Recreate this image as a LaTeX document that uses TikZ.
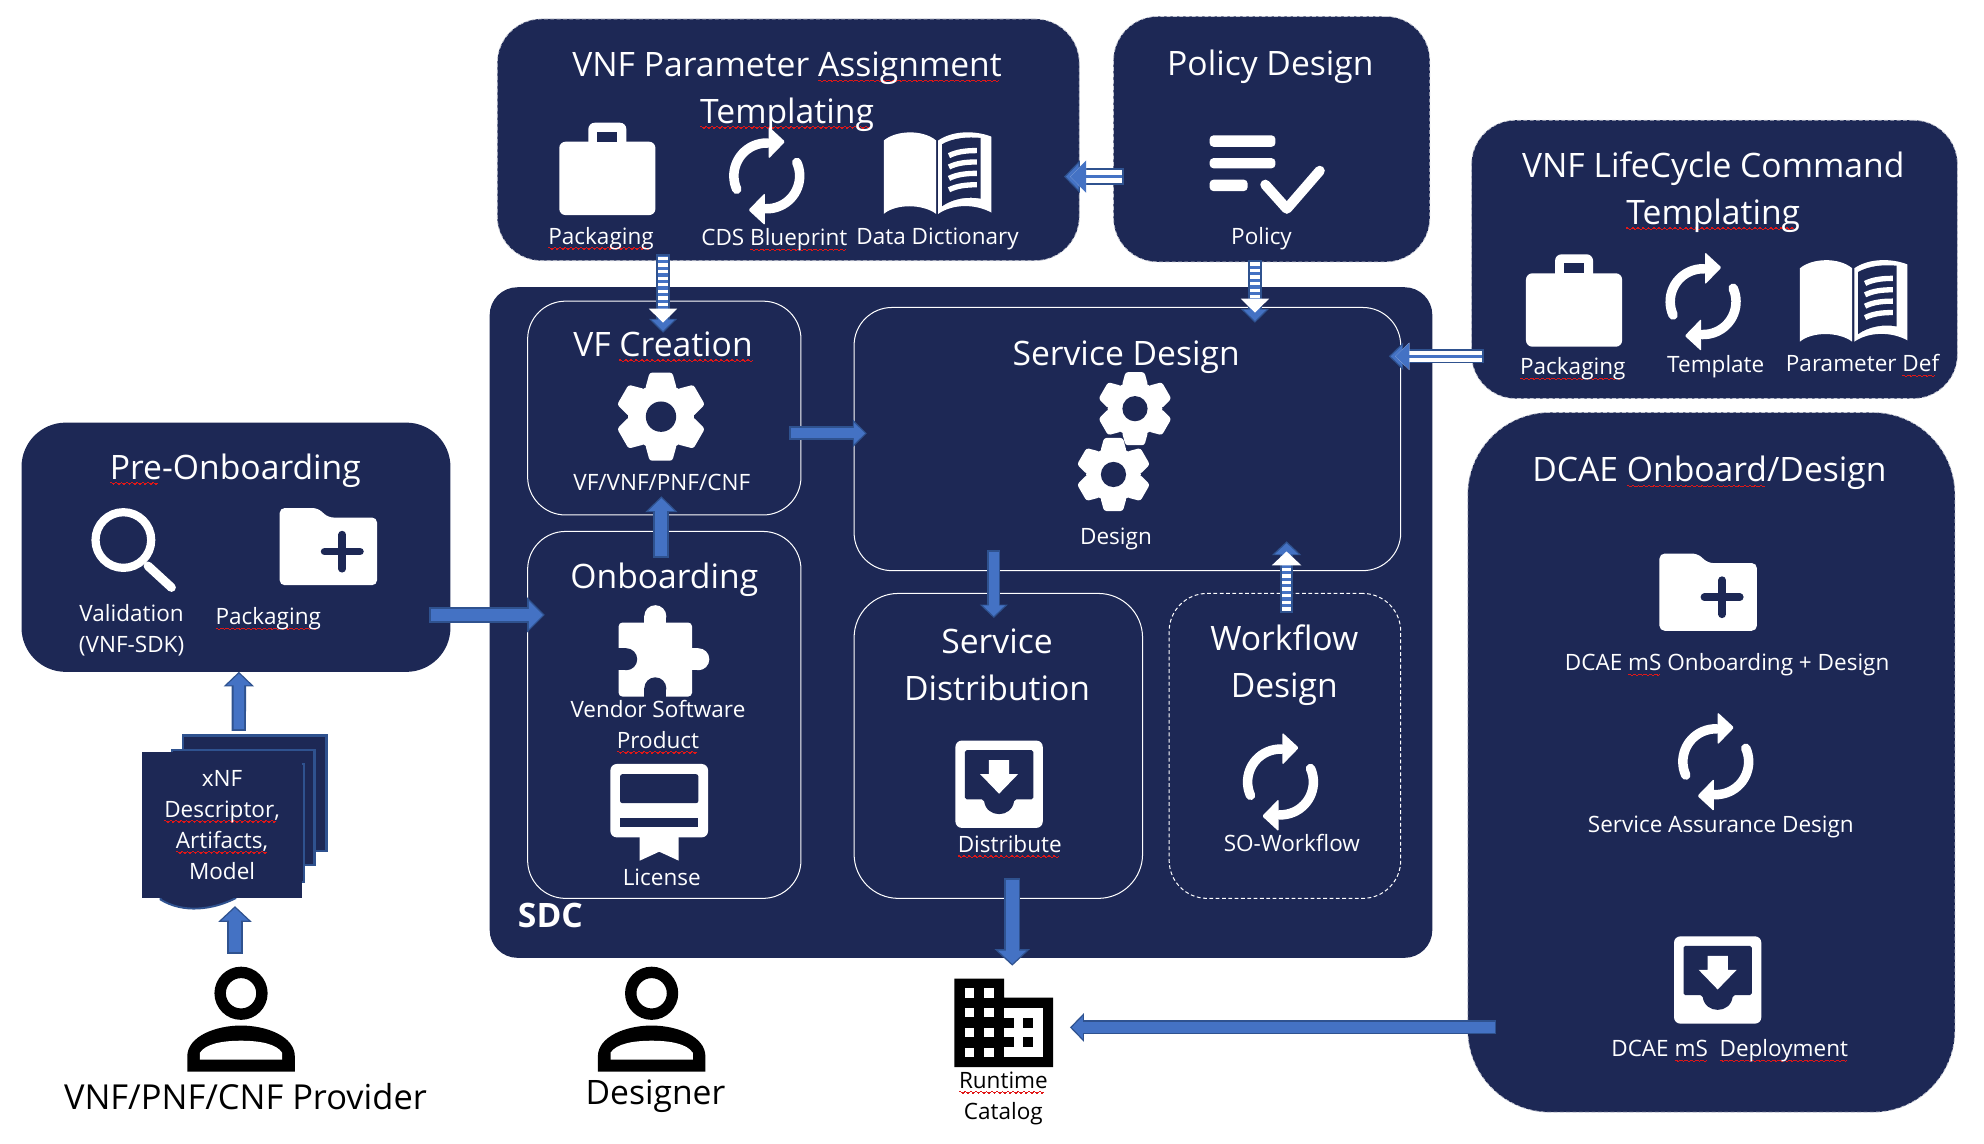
\documentclass[tikz,border=0pt]{standalone}
\usepackage{fontspec}
\setmainfont{Open Sans}
\usetikzlibrary{arrows.meta}

\definecolor{panelnavy}{HTML}{1D2855}
\definecolor{linkfill}{HTML}{4472C4}
\definecolor{linkedge}{HTML}{2F528F}
\definecolor{spellred}{HTML}{E01818}
\newcommand{\spellwave}{\hbox{\vrule width 1.5pt height .9pt depth 0pt\vrule width .6pt height .4pt depth .4pt\vrule width 1.5pt height 0pt depth .9pt\vrule width .6pt height .4pt depth .4pt}}
\newcommand{\spell}[1]{\leavevmode\setbox0=\hbox{#1}\rlap{\textcolor{spellred}{\lower3.2pt\hbox to\wd0{\leaders\spellwave\hfill}}}\box0\relax}

\tikzset{
    panel/.style={fill=panelnavy, rounded corners=35pt},
    dashpanel/.style={panel, draw=white!75!panelnavy, densely dashed, line width=.6pt},
    inbox/.style={draw=white, line width=.8pt, rounded corners=30pt},
    iconbox/.style={inner sep=0pt},
    title/.style={text=white, inner sep=0pt, align=center, font=\fontsize{26.6}{37}\selectfont},
    small/.style={text=white, inner sep=0pt, align=center, font=\fontsize{17.8}{24.5}\selectfont},
    fatarrow/.style n args={3}{-{Triangle[width=#2pt,length=#3pt]}, draw=linkedge, line width=#1pt,
        postaction={draw=linkfill, line width=#1pt-3pt, -{Triangle[width=#2pt,length=#3pt,scale=.8]}, shorten >=1.5pt, shorten <=1.5pt}},
    ladderarrow/.style n args={3}{fatarrow={#1}{#2}{#3},
        postaction={draw=white, line width=#1pt-3pt, dash pattern=on 2.6pt off 2.6pt, shorten >=#3pt-3pt, shorten <=2pt}},
    railarrow/.style n args={3}{fatarrow={#1}{#2}{#3},
        postaction={draw=white, line width=#1pt-3pt, shorten >=5pt, shorten <=1.5pt},
        postaction={draw=linkfill, line width=2.8pt, shorten >=5pt, shorten <=1.5pt}},
    briefcase/.pic={
        \fill[white, rounded corners=5pt] (-38,-21) rectangle (38,37);
        \fill[white, rounded corners=5pt] (-15,-36) rectangle (15,-10);
        \fill[panelnavy] (-8,-29) rectangle (8,-21);
    },
    refresh/.pic={
        \draw[white, line width=7.5pt, line cap=round] (156:26) arc[start angle=156, end angle=272, radius=26];
        \draw[white, line width=7.5pt, line cap=round] (336:26) arc[start angle=336, end angle=452, radius=26];
        \fill[white, rounded corners=1pt] (1.5,-39) -- (14.5,-27) -- (1.5,-13.6) -- cycle;
        \fill[white, rounded corners=1pt] (-1.5,39) -- (-14.5,27) -- (-1.5,13.6) -- cycle;
    },
    openbook/.pic={
        \fill[white] (-42.5,-26) .. controls (-33,-34) and (-12,-35) .. (-1.2,-26) -- (-1.2,32) .. controls (-12,24) and (-33,24) .. (-42.5,32) -- cycle;
        \fill[white] (.5,-26) .. controls (12,-34) and (30,-34) .. (42.5,-29) -- (42.5,31) .. controls (30,24) and (12,24) .. (.5,32) -- cycle;
        \fill[panelnavy] (3.5,-23) .. controls (12,-28) and (24,-29) .. (34,-28) -- (34,20) .. controls (24,18) and (12,20) .. (3.5,26) -- cycle;
        \foreach \s in {-16,-7,2,11}
            \draw[white, line width=4.2pt] (9,\s+2) .. controls (15,\s-1) and (22,\s-2) .. (31,\s-2);
    },
    checklist/.pic={
        \fill[white, rounded corners=3pt] (0,0) rectangle (52,9);
        \fill[white, rounded corners=3pt] (0,18) rectangle (52,26);
        \fill[white, rounded corners=3pt] (0,35) rectangle (30,44);
        \draw[white, line width=8pt, line cap=round, line join=round] (44,39) -- (61,58) -- (87,28);
    },
    gearicon/.pic={
        \fill[white] (0,0) circle (26);
        \foreach \a in {0,60,...,300}
            \fill[white, rotate=\a, rounded corners=2pt] (-12.5,-22) -- (-9,-34.8) -- (9,-34.8) -- (12.5,-22) -- cycle;
        \fill[panelnavy] (0,0) circle (12);
    },
    puzzle/.pic={
        \fill[white, rounded corners=3pt] (-29,-29) rectangle (29,29.5);
        \fill[white] (0,-34) circle (8.7);
        \fill[white] (-8.7,-34) rectangle (8.7,-25);
        \fill[white] (34,0) circle (8.7);
        \fill[white] (25,-8.7) rectangle (34,8.7);
        \fill[panelnavy] (-23,0) circle (8.7);
        \fill[panelnavy] (-30,-8.7) rectangle (-23,8.7);
        \fill[panelnavy] (0,23) circle (8.7);
        \fill[panelnavy] (-8.7,23) rectangle (8.7,30);
    },
    badge/.pic={
        \fill[white] (-15.4,20) -- (15.4,20) -- (15.4,47.4) -- (0,40.3) -- (-15.4,47.4) -- cycle;
        \fill[white, rounded corners=5pt] (-38.6,-29) rectangle (38.6,29);
        \fill[panelnavy, rounded corners=2pt] (-31,-21) -- (31,-21) -- (31,2) -- (-31,2) -- cycle;
        \fill[panelnavy] (-31,13.4) rectangle (31,21);
    },
    traydown/.pic={
        \fill[white, rounded corners=5pt] (-34.5,-34.5) rectangle (34.5,34.5);
        \fill[panelnavy, rounded corners=1.5pt] (-27,-27) -- (27,-27) -- (27,12) -- (12,12) .. controls (10,27) and (-10,27) .. (-12,12) -- (-27,12) -- cycle;
        \fill[white] (-8,-19) -- (8,-19) -- (8,-8) -- (15,-8) -- (0,7.5) -- (-15,-8) -- (-8,-8) -- cycle;
    },
    folderplus/.pic={
        \fill[white, rounded corners=4pt] (-38.5,-30.5) -- (-8.5,-30.5) -- (0,-23) -- (38.5,-23) -- (38.5,30.5) -- (-38.5,30.5) -- cycle;
        \draw[panelnavy, line width=6pt, line cap=round] (11,-9.5) -- (11,17.5) (-3,4) -- (25,4);
    },
    lens/.pic={
        \draw[white, line width=6.5pt] (0,0) circle (22);
        \draw[white, line width=7pt, line cap=round] (19.5,20.5) -- (38,37.5);
    },
    person/.pic={
        \draw[black, line width=9pt] (0,0) circle (16.5);
        \fill[black] (-42.5,62) -- (-42.5,50) .. controls (-42.5,34) and (-20,25.5) .. (0,25.5) .. controls (20,25.5) and (42.5,34) .. (42.5,50) -- (42.5,62) -- cycle;
        \fill[white] (-32.5,52.5) -- (-32.5,47) .. controls (-28,40) and (-15,37.5) .. (0,37.5) .. controls (15,37.5) and (28,40) .. (32.5,47) -- (32.5,52.5) -- cycle;
    },
    building/.pic={
        \fill[black] (0,0) -- (39.3,0) -- (39.3,15.1) -- (77.9,15.1) -- (77.9,69.9) -- (0,69.9) -- cycle;
        \foreach \r in {7.6,23,38.7,54.5}
            \foreach \c in {8.2,23.6}
                \fill[white] (\c,\r) rectangle (\c+7.6,\r+7.7);
        \fill[white] (39.3,23) rectangle (70.2,62);
        \foreach \r in {30.9,46.5}
            \foreach \c in {39.3,54.5}
                \fill[black] (\c,\r) rectangle (\c+7.7,\r+7.8);
    }
}

\begin{document}
\begin{tikzpicture}[x=1pt, y=-1pt]
\useasboundingbox (0,0) rectangle (1568,904);

% Panels
\node[dashpanel, minimum width=460pt, minimum height=191pt] (param) at (623,110.5) {};
\node[dashpanel, minimum width=250pt, minimum height=194pt] (policy) at (1005,110) {};
\node[dashpanel, minimum width=384pt, minimum height=220pt] (lifecycle) at (1355,205) {};
\node[dashpanel, rounded corners=65pt, minimum width=385pt, minimum height=553pt] (dcae) at (1352.5,602.5) {};
\node[panel, rounded corners=22pt, minimum width=745pt, minimum height=530pt] (sdc) at (759.5,492) {};
\node[panel, minimum width=339pt, minimum height=197pt] (preon) at (186.5,432.5) {};

% Boxes inside SDC
\node[inbox, minimum width=216pt, minimum height=169pt] (vf) at (525,322.5) {};
\node[inbox, minimum width=216pt, minimum height=290pt] (onb) at (525,565) {};
\node[inbox, minimum width=432pt, minimum height=208pt] (sdes) at (891,347) {};
\node[inbox, rounded corners=35pt, minimum width=228pt, minimum height=241pt] (sdist) at (789,589.5) {};
\node[inbox, densely dashed, minimum width=183pt, minimum height=241pt] (wf) at (1015.5,589.5) {};

% Document stack
\node[fill=panelnavy, draw=linkedge, line width=2pt, minimum width=113.5pt, minimum height=91.3pt] (sheetback) at (201.25,627) {};
\node[fill=panelnavy, draw=linkedge, line width=2pt, minimum width=112.5pt, minimum height=91pt] (sheetmid) at (192.2,638.2) {};
\node[fill=panelnavy, draw=linkedge, line width=1.5pt, minimum width=100pt, minimum height=93pt] (sheetfront) at (190,650.5) {};
\draw[fill=panelnavy, draw=linkedge, line width=1.5pt] (127,705) -- (127,711) .. controls (145,722) and (168,719) .. (186,710) -- (186,705) -- cycle;
\node[fill=panelnavy, small, minimum width=126.5pt, minimum height=115.4pt] (xnf) at (175.5,652) {xNF\\\spell{Descriptor,}\\\spell{Artifacts,}\\Model};

% Icon places without text
\node[iconbox, minimum width=85pt, minimum height=86pt] (provider) at (190.5,805) {};
\node[iconbox, minimum width=78pt, minimum height=70pt] (catalog) at (793.5,808.6) {};

% Arrows
\draw[ladderarrow={11.6}{21.7}{11}] ([xshift=-99pt,yshift=5.3pt]param.south) -- ([xshift=-1pt,yshift=-25.4pt]vf.north);
\draw[ladderarrow={11.6}{21.7}{11}] ([xshift=-13.2pt,yshift=2pt]policy.south) -- ([xshift=100.8pt,yshift=-12.5pt]sdes.north);
\draw[railarrow={13}{25}{12.5}] ([xshift=8.5pt,yshift=-29.6pt]policy.west) -- ([xshift=-12.4pt,yshift=-29.1pt]param.east);
\draw[railarrow={11.3}{21}{11.3}] ([xshift=9.8pt,yshift=-76.6pt]lifecycle.west) -- ([xshift=-9.8pt,yshift=65.4pt]sdes.east);
\draw[fatarrow={13}{27}{14}] ([xshift=-17pt,yshift=-53.5pt]preon.east) -- ([xshift=14pt,yshift=79pt]onb.west);
\draw[fatarrow={11.3}{23.4}{11.6}] ([xshift=-12.5pt,yshift=2.7pt]sheetback.north) -- ([xshift=2.3pt,yshift=.3pt]preon.south);
\draw[fatarrow={12}{25.7}{12.4}] ([xshift=-4.8pt,yshift=8pt]provider.north) -- ([xshift=10.2pt,yshift=-6.2pt]xnf.south);
\draw[fatarrow={11}{21}{11}] ([xshift=-10pt,yshift=-20pt]vf.east) -- ([xshift=10.5pt,yshift=4.5pt]sdes.west);
\draw[fatarrow={12.6}{25}{12.6}] ([xshift=-2.3pt,yshift=-21.3pt]onb.north) -- ([xshift=-2.3pt,yshift=15.2pt]vf.south);
\draw[fatarrow={10.6}{21.5}{10.6}] ([xshift=-105.6pt,yshift=16.7pt]sdes.south) -- ([xshift=-3.6pt,yshift=-19.8pt]sdist.north);
\draw[fatarrow={13}{27}{13}] ([xshift=11pt,yshift=16.5pt]sdist.south) -- ([xshift=6.5pt,yshift=10.2pt]catalog.north);
\draw[ladderarrow={9.7}{22.7}{11}] ([xshift=1.3pt,yshift=-15.9pt]wf.north) -- ([xshift=125.8pt,yshift=23.6pt]sdes.south);
\draw[fatarrow={11}{22}{11}] ([xshift=23pt,yshift=-209.5pt]dcae.west) -- ([xshift=12.9pt,yshift=-3.4pt]catalog.east);

% Icons
\pic at (480,133) {briefcase};
\pic at (606,139) {refresh};
\pic at (741,137) {openbook};
\pic at (956,107) {checklist};
\pic at (1244,237) {briefcase};
\pic at (1346,238.4) {refresh};
\pic at (1465,238) {openbook};
\pic at (522.4,329.3) {gearicon};
\pic[scale=.83] at (897,323) {gearicon};
\pic[scale=.83] at (880,375) {gearicon};
\pic at (517.9,521) {puzzle};
\pic at (521,632.8) {badge};
\pic at (789.6,619.8) {traydown};
\pic at (1012,618) {refresh};
\pic at (97.5,426.8) {lens};
\pic at (259.5,432) {folderplus};
\pic at (1350,468) {folderplus};
\pic at (1356,602) {refresh};
\pic at (1357.5,774.5) {traydown};
\pic at (190.5,785) {person};
\pic at (515,785) {person};
\pic at (catalog.north west) {building};

% Titles
\node[title] (tparam) at (622,72.5) {VNF Parameter \spell{Assignment}\\\spell{Templating}};
\node[title] (tpolicy) at (1004,52.5) {Policy Design};
\node[title] (tlife) at (1354,152) {VNF LifeCycle Command\\\spell{Templating}};
\node[title] (tdcae) at (1351,374) {DCAE \spell{Onboard}/Design};
\node[title] (tvf) at (524,274) {VF \spell{Creation}};
\node[title] (tsdes) at (890,282) {Service Design};
\node[title] (tonb) at (525,458) {Onboarding};
\node[title] (tsdist) at (788,525.5) {Service\\Distribution};
\node[title] (twf) at (1015,525.5) {Workflow\\Design};
\node[title] (tpre) at (186,372) {\spell{Pre}-Onboarding};
\node[title, font=\fontsize{26.6}{37}\selectfont\bfseries] (tsdc) at (435,723.5) {SDC};

% Labels
\node[small] (lpack) at (475,188.5) {\spell{Packaging}};
\node[small] (lcds) at (612,189.5) {CDS \spell{Blueprint}};
\node[small] (ldict) at (741,188.5) {Data Dictionary};
\node[small] (lpolicy) at (997,188.5) {Policy};
\node[small] (lpack2) at (1243,291.5) {\spell{Packaging}};
\node[small] (ltempl) at (1356,290) {Template};
\node[small] (lpdef) at (1472,289) {Parameter \spell{Def}};
\node[small] (lvf) at (523,381) {VF/VNF/PNF/CNF};
\node[small] (ldes) at (882,426) {Design};
\node[small] (lvsp) at (520,574.5) {Vendor Software\\\spell{Product}};
\node[small] (llic) at (523,693) {License};
\node[small] (ldist) at (798,669) {\spell{Distribute}};
\node[small] (lso) at (1021,666) {SO-Workflow};
\node[small] (lval) at (104,498) {Validation\\(VNF-SDK)};
\node[small] (lpack3) at (212,489) {\spell{Packaging}};
\node[small] (ldcae) at (1365,525.5) {DCAE \spell{mS} Onboarding + Design};
\node[small] (lsad) at (1360,653.5) {Service Assurance Design};
\node[small] (ldep) at (1367,830.5) {DCAE \spell{mS}\ \ \spell{Deployment}};
\node[small, text=black] (lrun) at (793,868) {\spell{Runtime}\\Catalog};
\node[title, font=\fontsize{27.2}{37}\selectfont, text=black] (lprov) at (194,867) {VNF/PNF/CNF Provider};
\node[title, text=black] (ldesr) at (518,866.5) {Designer};

\end{tikzpicture}
\end{document}
